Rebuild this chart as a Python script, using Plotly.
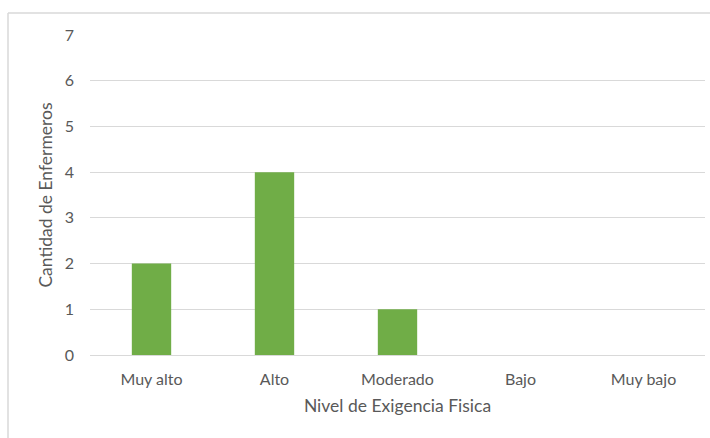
import plotly.graph_objects as go

# Nivel de exigencia física y cantidad de enfermeros
categorias = ["Muy alto", "Alto", "Moderado", "Bajo", "Muy bajo"]
cantidad = [2, 4, 1, 0, 0]
ticks_y = [0, 1, 2, 3, 4, 5, 6, 7]

W, H = 710, 438
ML, MR, MT, MB = 90, 5, 35, 83
pw = W - ML - MR
ph = H - MT - MB

fig = go.Figure(
    go.Bar(
        x=categorias,
        y=cantidad,
        marker=dict(color="#70AD47", line=dict(width=0)),
    )
)

gris = "#595959"
fuente = "Lato"

fig.update_layout(
    width=W,
    height=H,
    margin=dict(l=ML, r=MR, t=MT, b=MB),
    paper_bgcolor="white",
    plot_bgcolor="white",
    bargap=0.68,
    showlegend=False,
    font=dict(family=fuente, size=16, color=gris),
    xaxis=dict(
        showgrid=False,
        showline=False,
        ticks="",
        ticklabelstandoff=13,
        tickfont=dict(size=16, color=gris),
        title=dict(text="Nivel de Exigencia Fisica", font=dict(size=17.5, color=gris), standoff=12),
    ),
    yaxis=dict(
        range=[0, 7],
        tickvals=ticks_y,
        showgrid=True,
        gridcolor="#d9d9d9",
        gridwidth=1.3,
        zeroline=True,
        zerolinecolor="#d9d9d9",
        zerolinewidth=1.3,
        showline=False,
        ticks="",
        ticklabelstandoff=15,
        tickfont=dict(size=16, color=gris),
        title=dict(text="Cantidad de Enfermeros", font=dict(size=17.5, color=gris), standoff=7),
    ),
)

# Marco del área del gráfico (borde izquierdo y superior)
x0 = (8 - ML) / pw
y0 = 1 + (MT - 13) / ph
x1 = (W + 2 - ML) / pw
yb = -(MB + 2) / ph
borde = dict(color="#d9d9d9", width=1.5)
fig.add_shape(type="line", xref="paper", yref="paper", x0=x0, x1=x0, y0=yb, y1=y0, line=borde)
fig.add_shape(type="line", xref="paper", yref="paper", x0=x0, x1=x1, y0=y0, y1=y0, line=borde)

fig.write_html("out.html")
